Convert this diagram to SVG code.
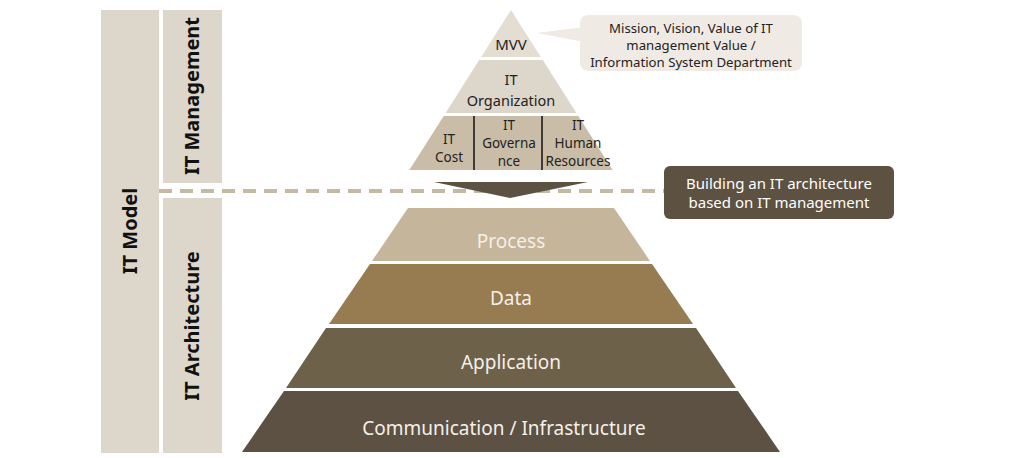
<svg xmlns="http://www.w3.org/2000/svg" width="1012" height="458" viewBox="0 0 1012 458">
<style>
.t{font-family:"Noto Sans","Open Sans","Liberation Sans",sans-serif;text-anchor:middle}
.side{fill:#ddd6ca}
.sl{font-size:20px;font-weight:bold;fill:#111}
.sm{font-size:13.5px;fill:#222}
.big{font-size:19px;fill:#f4f0e8}
</style>
<rect width="1012" height="458" fill="#ffffff"/>
<g id="it-model">
<rect class="side" x="101" y="10" width="58" height="443"/>
<text class="t sl" transform="translate(137,231) rotate(-90)">IT Model</text>
</g>
<g id="it-management">
<rect class="side" x="163" y="10" width="59" height="173"/>
<text class="t sl" transform="translate(199,96) rotate(-90)">IT Management</text>
</g>
<g id="it-architecture">
<rect class="side" x="163" y="198" width="59" height="255"/>
<text class="t sl" transform="translate(199,326) rotate(-90)">IT Architecture</text>
</g>
<g id="connectors">
<line x1="159" y1="191" x2="664" y2="191" stroke="#c5b9a4" stroke-width="4" stroke-dasharray="13 8"/>
<polygon points="434,182 588,182 510,198" fill="#5d5142"/>
</g>
<g id="mvv">
<polygon points="511,10 540.8,57 481.2,57" fill="#e3ddd2"/>
<text class="t" x="511" y="50" font-size="15" fill="#222">MVV</text>
</g>
<g id="it-organization">
<polygon points="479.2,60 542.8,60 576.4,113 445.6,113" fill="#ddd6ca"/>
<text class="t" x="511" y="85" font-size="14.5" fill="#222">IT</text>
<text class="t" x="511" y="106" font-size="14.5" fill="#222">Organization</text>
</g>
<g id="row3">
<polygon points="443.7,116 578.3,116 612.6,170 409.4,170" fill="#c9bda8"/>
<line x1="474" y1="116" x2="474" y2="170" stroke="#111" stroke-width="1.5"/>
<line x1="542" y1="116" x2="542" y2="170" stroke="#111" stroke-width="1.5"/>
</g>
<g id="it-cost">
<text class="t sm" x="449" y="144">IT</text>
<text class="t sm" x="449" y="162">Cost</text>
</g>
<g id="it-governance">
<text class="t sm" x="509" y="130">IT</text>
<text class="t sm" x="509" y="148">Governa</text>
<text class="t sm" x="509" y="166">nce</text>
</g>
<g id="it-human-resources">
<text class="t sm" x="578" y="130">IT</text>
<text class="t sm" x="578" y="148">Human</text>
<text class="t sm" x="578" y="166">Resources</text>
</g>
<g id="mvv-callout">
<polygon points="537,33 584,27 584,42" fill="#efebe4"/>
<rect x="580" y="15" width="222" height="56" rx="8" fill="#efebe4"/>
<text class="t" x="691" y="33" font-size="13.2" fill="#222">Mission, Vision, Value of IT</text>
<text class="t" x="691" y="50" font-size="13.2" fill="#222">management Value /</text>
<text class="t" x="691" y="67" font-size="13.2" fill="#222">Information System Department</text>
</g>
<g id="building-note">
<rect x="664" y="166" width="230" height="53" rx="6" fill="#5d5142"/>
<text class="t" x="779" y="189" font-size="15" fill="#ffffff">Building an IT architecture</text>
<text class="t" x="779" y="208" font-size="15" fill="#ffffff">based on IT management</text>
</g>
<g id="process">
<polygon points="408,208 614,208 650,261 372,261" fill="#c5b59a"/>
<text class="t big" x="511" y="248">Process</text>
</g>
<g id="data">
<polygon points="370,264 652,264 693,324 329,324" fill="#967c50"/>
<text class="t big" x="511" y="305">Data</text>
</g>
<g id="application">
<polygon points="326,328 696,328 736,388 286,388" fill="#6e614a"/>
<text class="t big" x="511" y="369">Application</text>
</g>
<g id="communication">
<polygon points="284,391 738,391 780,452 242,452" fill="#5d5143"/>
<text class="t big" x="504" y="435">Communication / Infrastructure</text>
</g>
</svg>
